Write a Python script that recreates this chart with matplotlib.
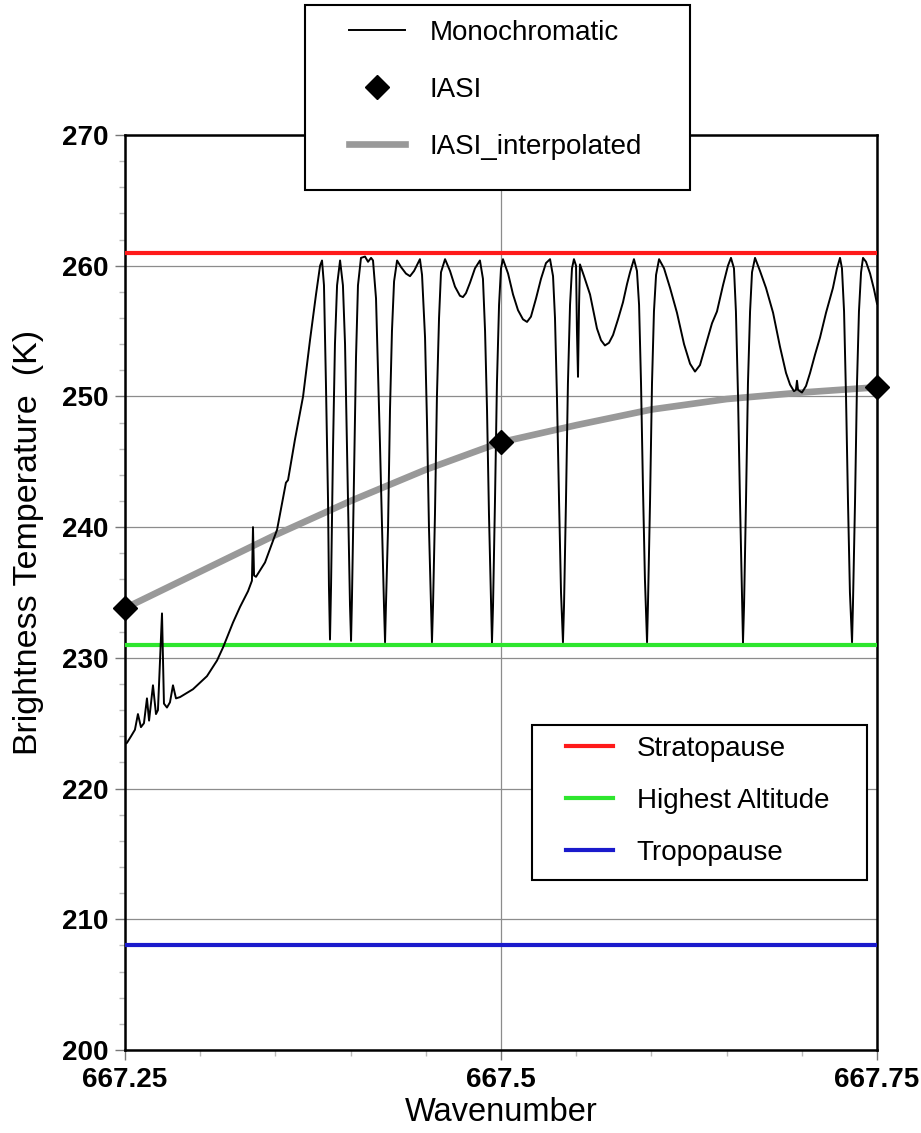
import numpy as np
import matplotlib
matplotlib.use('Agg')
import matplotlib.pyplot as plt
from matplotlib.lines import Line2D
from matplotlib.patches import Rectangle
from matplotlib.ticker import MultipleLocator, FixedLocator

plt.rcParams['font.family'] = ['Liberation Sans', 'DejaVu Sans']

# monochromatic brightness temperature
mono_wn = [
    667.2500, 667.2513, 667.2540, 667.2566, 667.2586, 667.2606, 667.2626, 667.2646,
    667.2660, 667.2686, 667.2706, 667.2719, 667.2746, 667.2759, 667.2779, 667.2799,
    667.2819, 667.2839, 667.2866, 667.2952, 667.3045, 667.3112, 667.3152, 667.3218,
    667.3265, 667.3318, 667.3344, 667.3351, 667.3358, 667.3371, 667.3431, 667.3511,
    667.3557, 667.3570, 667.3584, 667.3630, 667.3684, 667.3730, 667.3770, 667.3797,
    667.3810,
    667.3823, 667.3836, 667.3850, 667.3856, 667.3863, 667.3870, 667.3883, 667.3896,
    667.3910, 667.3930,
    667.3949, 667.3963, 667.3976, 667.3989, 667.3996, 667.4003, 667.4009, 667.4023,
    667.4036, 667.4049, 667.4069, 667.4096, 667.4116, 667.4136, 667.4149,
    667.4169, 667.4182, 667.4195, 667.4209, 667.4222, 667.4229, 667.4235, 667.4249,
    667.4262, 667.4275, 667.4289, 667.4309, 667.4335, 667.4368, 667.4395, 667.4422,
    667.4448, 667.4461,
    667.4475, 667.4495, 667.4508, 667.4521, 667.4535, 667.4541, 667.4548, 667.4561,
    667.4574, 667.4588, 667.4601, 667.4628, 667.4661, 667.4694, 667.4727, 667.4747,
    667.4767, 667.4794, 667.4827, 667.4860,
    667.4880, 667.4894, 667.4907, 667.4920, 667.4934, 667.4940, 667.4947, 667.4960,
    667.4973, 667.4987, 667.5000, 667.5013, 667.5047, 667.5080, 667.5113, 667.5146,
    667.5173, 667.5199, 667.5233, 667.5266, 667.5299, 667.5326,
    667.5346, 667.5359, 667.5372, 667.5386, 667.5399, 667.5412, 667.5419, 667.5432,
    667.5445, 667.5459, 667.5472, 667.5485, 667.5499, 667.5505, 667.5512, 667.5519,
    667.5525, 667.5552, 667.5592, 667.5638, 667.5665, 667.5691, 667.5718, 667.5745,
    667.5778, 667.5811, 667.5838, 667.5858, 667.5884,
    667.5904, 667.5918, 667.5931, 667.5944, 667.5957, 667.5971, 667.5977, 667.5991,
    667.6004, 667.6017, 667.6031, 667.6051, 667.6084, 667.6124, 667.6170, 667.6217,
    667.6257, 667.6290, 667.6323, 667.6363, 667.6403, 667.6436, 667.6476, 667.6509,
    667.6529,
    667.6549, 667.6562, 667.6576, 667.6589, 667.6602, 667.6609, 667.6616, 667.6629,
    667.6642, 667.6656, 667.6669, 667.6689, 667.6722, 667.6762, 667.6809, 667.6855,
    667.6895, 667.6922, 667.6948, 667.6961, 667.6968, 667.6975, 667.7001, 667.7028,
    667.7055, 667.7088, 667.7121, 667.7161, 667.7207, 667.7234, 667.7254,
    667.7267, 667.7281, 667.7294, 667.7307, 667.7320, 667.7334, 667.7340, 667.7354,
    667.7367, 667.7380, 667.7394, 667.7407, 667.7427, 667.7454, 667.7480, 667.7500,
]
mono_bt = [
    223.4, 223.5, 224.0, 224.5, 225.7, 224.7, 225.0, 226.9,
    225.2, 227.9, 225.7, 226.0, 233.4, 226.5, 226.2, 226.6,
    227.9, 226.9, 227.0, 227.6, 228.6, 229.8, 230.8, 232.7,
    233.9, 235.1, 235.9, 240.0, 236.3, 236.2, 237.3, 239.8,
    242.6, 243.4, 243.6, 246.7, 250.0, 254.3, 257.8, 260.0,
    260.4,
    258.5, 251.0, 242.0, 235.5, 231.4, 235.5, 246.0, 254.0,
    258.5, 260.4,
    258.5, 254.0, 246.0, 238.0, 234.0, 231.3, 234.5, 244.0,
    253.0, 258.5, 260.6, 260.7, 260.3, 260.6, 260.4,
    257.5, 252.0, 246.5, 240.0, 234.0, 231.2, 234.0, 240.0,
    249.0, 255.0, 258.8, 260.4, 259.9, 259.4, 259.2, 259.6,
    260.2, 260.5,
    259.3, 254.5, 248.0, 240.0, 234.0, 231.2, 234.0, 241.0,
    250.0, 256.0, 259.5, 260.5, 259.6, 258.4, 257.7, 257.6,
    257.9, 258.7, 259.8, 260.4,
    259.0, 255.0, 249.0, 241.0, 234.0, 231.2, 234.0, 242.0,
    251.0, 257.0, 259.8, 260.5, 259.4, 257.8, 256.6, 255.9,
    255.7, 256.1, 257.5, 259.0, 260.2, 260.5,
    259.2, 256.0, 250.0, 242.0, 235.0, 231.2, 234.0, 242.0,
    251.0, 257.0, 259.8, 260.5, 260.0, 255.0, 251.5, 257.0,
    260.1, 259.2, 257.8, 255.2, 254.3, 253.9, 254.1, 254.7,
    255.9, 257.2, 258.6, 259.5, 260.5,
    259.6, 257.0, 251.0, 243.0, 236.0, 231.2, 234.0, 242.0,
    251.0, 256.5, 259.3, 260.5, 259.8, 258.3, 256.4, 254.0,
    252.5, 251.9, 252.4, 254.0, 255.6, 256.5, 258.5, 260.0,
    260.6,
    259.8, 256.5, 250.0, 242.0, 235.0, 231.2, 234.0, 242.0,
    251.0, 256.5, 259.5, 260.6, 259.6, 258.3, 256.4, 253.8,
    251.8, 250.9, 250.4, 250.5, 251.2, 250.5, 250.3, 250.8,
    251.8, 253.2, 254.5, 256.4, 258.3, 259.8, 260.6,
    259.8, 256.5, 250.0, 242.0, 235.0, 231.2, 234.0, 242.0,
    251.0, 256.5, 259.5, 260.6, 260.3, 259.4, 258.2, 257.1,
]

# IASI channels
iasi_wn = [667.25, 667.50, 667.75]
iasi_bt = [233.8, 246.5, 250.7]

# interpolated IASI curve
interp_wn = [667.25, 667.30, 667.35, 667.40, 667.45, 667.50, 667.55, 667.60, 667.65, 667.70, 667.75]
interp_bt = [233.8, 236.6, 239.4, 242.0, 244.4, 246.5, 247.8, 249.0, 249.8, 250.3, 250.7]

# reference levels
levels = [261.0, 231.0, 208.0]
level_names = ['Stratopause', 'Highest Altitude', 'Tropopause']
level_colors = ['#ff1a1a', '#2ee62e', '#1a1acc']

W, H = 921, 1133
fig = plt.figure(figsize=(W / 100, H / 100), dpi=100)
ax = fig.add_axes([125 / W, 1 - 1050 / H, 752 / W, 915 / H])

for lv, c in zip(levels, level_colors):
    ax.axhline(lv, color=c, lw=3, zorder=3)

ax.plot(interp_wn, interp_bt, color='#999999', lw=4.8, solid_capstyle='butt', zorder=4)
ax.plot(mono_wn, mono_bt, color='black', lw=1.4, zorder=5)
ax.plot(iasi_wn, iasi_bt, 'D', color='black', ms=12, zorder=6, clip_on=False)

ax.set_xlim(667.25, 667.75)
ax.set_ylim(200, 270)
ax.xaxis.set_major_locator(FixedLocator([667.25, 667.5, 667.75]))
ax.set_xticklabels(['667.25', '667.5', '667.75'])
ax.xaxis.set_minor_locator(MultipleLocator(0.05))
ax.yaxis.set_major_locator(MultipleLocator(10))
ax.yaxis.set_minor_locator(MultipleLocator(2))

ax.grid(True, which='major', color='#8c8c8c', lw=0.9, zorder=1)
ax.set_axisbelow(True)
for s in ax.spines.values():
    s.set_linewidth(1.8)
ax.tick_params(which='major', length=7, width=1, color='#777777', pad=5)
ax.tick_params(which='minor', length=4, width=1, color='#bbbbbb')
for lab in ax.get_xticklabels() + ax.get_yticklabels():
    lab.set_fontweight('bold')
    lab.set_fontsize(20)

ax.set_xlabel('Wavenumber', fontsize=23.5, labelpad=3)
ax.set_ylabel('Brightness Temperature  (K)', fontsize=24.5)
ax.yaxis.set_label_coords(-0.108, 0.555)

# legend boxes
fig.patches.append(Rectangle((305 / W, 1 - 190 / H), 385 / W, 185 / H,
                             transform=fig.transFigure, facecolor='white',
                             edgecolor='black', lw=1.5, zorder=3))
fig.patches.append(Rectangle((532 / W, 1 - 880 / H), 335 / W, 155 / H,
                             transform=fig.transFigure, facecolor='white',
                             edgecolor='black', lw=1.5, zorder=3))

top_handles = [
    Line2D([], [], color='black', lw=1.4),
    Line2D([], [], color='black', marker='D', ms=12, ls='none'),
    Line2D([], [], color='#999999', lw=4.8),
]
fig.legend(top_handles, ['Monochromatic', 'IASI', 'IASI_interpolated'],
           loc='upper left', bbox_to_anchor=(349 / W, 1 - 20 / H),
           frameon=False, fontsize=20, labelspacing=1.12, handlelength=2.0,
           handletextpad=0.9, borderpad=0, borderaxespad=0)

bot_handles = [Line2D([], [], color=c, lw=3) for c in level_colors]
fig.legend(bot_handles, level_names,
           loc='upper left', bbox_to_anchor=(566 / W, 1 - 736 / H),
           frameon=False, fontsize=20, labelspacing=0.93, handlelength=1.7,
           handletextpad=0.85, borderpad=0, borderaxespad=0)

fig.savefig('out.png', dpi=100)
